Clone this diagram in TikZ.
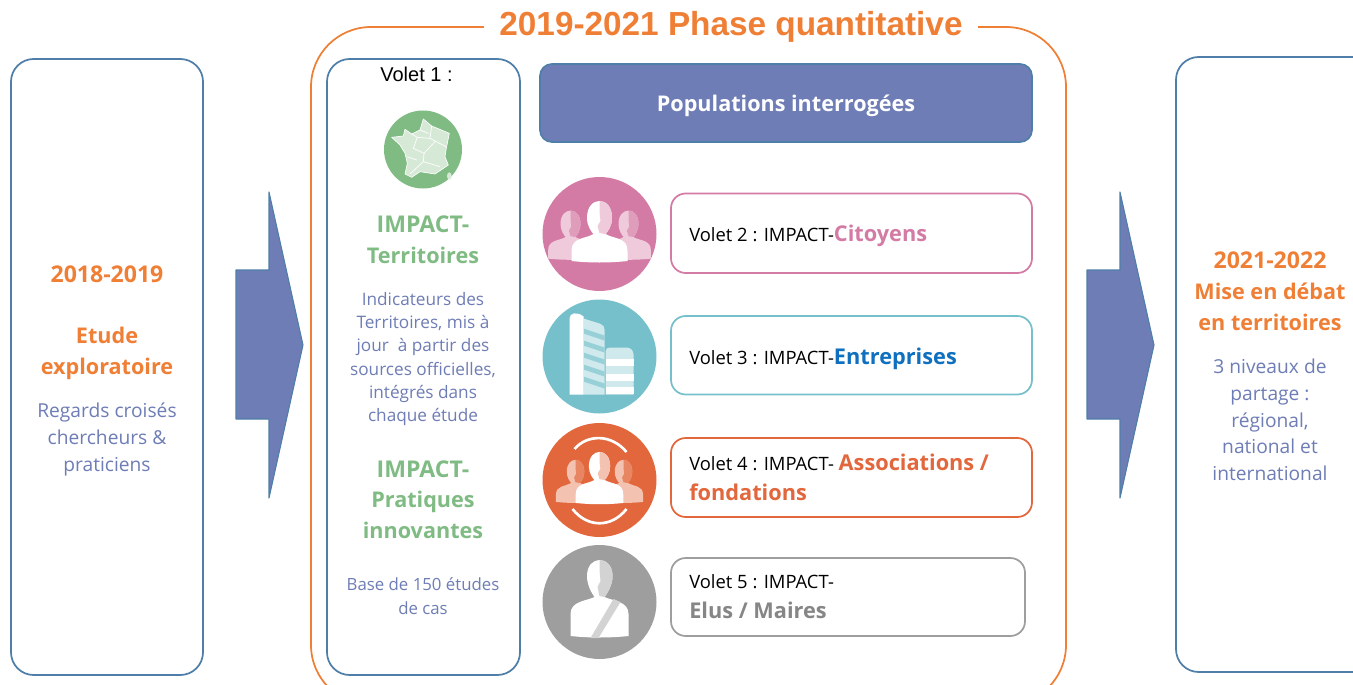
\documentclass[tikz,border=0pt]{standalone}
\usepackage{fontspec}
\setmainfont{Open Sans}
\newfontfamily\arialf{Liberation Sans}
\definecolor{orangeT}{HTML}{F07F36}
\definecolor{blueL}{HTML}{4F7FA8}
\definecolor{slate}{HTML}{6E7DB5}
\definecolor{greenT}{HTML}{7FBB83}
\definecolor{pinkT}{HTML}{D47BA5}
\definecolor{tealT}{HTML}{76C0CB}
\definecolor{redT}{HTML}{E2673C}
\definecolor{grayT}{HTML}{9E9E9E}
\definecolor{blueT}{HTML}{1070C0}
\newcommand{\personshape}[2]{%
  \fill[#1] (-12.5,-16) .. controls (-12.5,-28) and (-6,-33) .. (0,-33) .. controls (6,-33) and (12.5,-28) .. (12.5,-16) .. controls (12.5,-8) and (8,-2) .. (6,0) .. controls (14,5) and (28,3) .. (28,17) -- (28,27) .. controls (10,29) and (-10,29) .. (-28,27) -- (-28,17) .. controls (-28,3) and (-14,5) .. (-6,0) .. controls (-8,-2) and (-12.5,-8) .. (-12.5,-16) -- cycle;
  \fill[#2] (0,-33) .. controls (6,-33) and (12.5,-28) .. (12.5,-16) .. controls (12.5,-8) and (8,-2) .. (6,0) -- (0,-1) -- (-2,-8) -- (1,-13) -- (0,-22) -- cycle;
}
\newcommand{\bigt}[1]{{\bfseries\fontsize{16.3}{20}\selectfont #1}}
\tikzset{
  panel/.style={draw=blueL,line width=1.3pt,rounded corners=17pt,fill=white},
  tagbox/.style={line width=1.3pt,rounded corners=11pt,fill=white},
  bigarrow/.style={fill=slate,draw=blueL,line width=0.8pt,line join=round},
  body/.style={text=slate,align=center},
  ttl/.style={align=center,font=\bfseries\fontsize{16.2}{23.2}\selectfont},
  ttlb/.style={align=center,font=\bfseries\fontsize{17.3}{23.2}\selectfont},
  tag/.style={anchor=west,align=left,inner sep=0pt,font=\fontsize{13.8}{23}\selectfont},
}
\begin{document}
\begin{tikzpicture}[x=0.75pt,y=-0.75pt]
\useasboundingbox (0,0) rectangle (1353,685);
\clip (0,0) rectangle (1353,685);
% frames
\draw[orangeT,line width=1.3pt,rounded corners=45pt] (311,27) rectangle (1066,705);
\node[fill=white,inner sep=0pt,minimum width=371pt,minimum height=34pt,text=orangeT,font=\arialf\bfseries\fontsize{25}{28}\selectfont] (title) at (731,27) {2019-2021 Phase quantitative};
\draw[panel] (11,59) rectangle (203,675);
\draw[panel] (327,59) rectangle (520,675);
\draw[panel] (1176,57) rectangle (1400,672);
% arrows
\draw[bigarrow] (236,270) -- (269,270) -- (269,192) -- (303,345) -- (269,498) -- (269,419) -- (236,419) -- cycle;
\draw[bigarrow] (1087,270) -- (1120,270) -- (1120,192) -- (1154,345) -- (1120,498) -- (1120,419) -- (1087,419) -- cycle;
% left panel
\node[ttlb,text=orangeT] (a1) at (107,274) {2018-2019};
\node[ttl,text=orangeT] (a2) at (107,353) {Etude\\exploratoire};
\node[body,font=\fontsize{14.4}{20}\selectfont] (a3) at (107,439.5) {Regards croisés\\chercheurs \&\\praticiens};
% right panel
\node[ttlb,text=orangeT] (c0) at (1270,260.5) {2021-2022};
\node[ttl,text=orangeT] (c1) at (1270,307) {Mise en débat\\en territoires};
\node[body,font=\fontsize{14.4}{20}\selectfont] (c2) at (1270,420) {3 niveaux de\\partage :\\régional,\\national et\\international};
% volet 1
\node[font=\arialf\fontsize{15}{18}\selectfont] (v1) at (416.5,74) {Volet 1 :};
\fill[greenT] (423,149.5) circle (39);
\begin{scope}[shift={(320,50)},x=0.25pt,y=-0.25pt]
  \draw[fill=white!68!greenT,draw=white,line width=0.5pt,line join=round] (215,262) -- (250,258) -- (255,238) -- (275,252) -- (300,240) -- (310,207) -- (335,228) -- (388,250) -- (378,300) -- (375,320) -- (385,345) -- (345,372) -- (300,365) -- (275,382) -- (255,372) -- (262,340) -- (255,310) -- (240,285) -- cycle;
  \draw[white,line width=0.5pt] (275,252) -- (292,262) -- (330,265) -- (335,228) (330,265) -- (378,290) (292,262) -- (280,295) -- (312,310) -- (345,275) (312,310) -- (310,335) -- (360,350) (310,335) -- (270,372) (262,320) -- (290,330) (300,240) -- (325,250);
  \fill[white!68!greenT] (388,378) ellipse (7 and 11);
\end{scope}
\node[ttlb,text=greenT] (t0) at (423,224) {IMPACT-};
\node[ttl,text=greenT] (t1) at (423,255.5) {Territoires};
\node[body,font=\fontsize{12.9}{17.5}\selectfont] (t2) at (423,359) {Indicateurs des\\Territoires, mis à\\jour~ à partir des\\sources officielles,\\intégrés dans\\chaque étude};
\node[ttlb,text=greenT] (t3a) at (423,469) {IMPACT-};
\node[ttl,text=greenT] (t3) at (423,515) {Pratiques\\innovantes};
\node[body,font=\fontsize{12.6}{18}\selectfont] (t4) at (423,596) {Base de 150 études\\de cas};
% header
\node[draw=blueL,fill=slate,line width=1.3pt,rounded corners=9pt,minimum width=369pt,minimum height=58.5pt,inner sep=0pt] (hdr) at (786,103) {};
\node[text=white,inner sep=0pt,font=\fontsize{16.2}{18}\selectfont\bfseries] (hdrt) at (786,106) {Populations interrogées};
% icon 2
\begin{scope}[shift={(599.5,234)}]
  \fill[pinkT] (0,0) circle (57);
  \begin{scope}[shift={(-29,3)},scale=0.8] \personshape{white!60!pinkT}{white!25!pinkT} \end{scope}
  \begin{scope}[shift={(29,3)},scale=0.8] \personshape{white!60!pinkT}{white!25!pinkT} \end{scope}
  \personshape{white}{white!60!pinkT}
\end{scope}
% icon 3
\begin{scope}[shift={(599.5,356.5)}]
  \fill[tealT] (0,0) circle (57);
  \fill[white!65!tealT] (-16,38) -- (-16,-38) -- (0,-33) .. controls (4,-31) and (5,-30) .. (5,-27) -- (5,38) -- cycle;
  \foreach \yy in {-28,-16,-4,8,20} \fill[white!25!tealT] (-16,\yy) -- (5,\yy+7) -- (5,\yy+12) -- (-16,\yy+5) -- cycle;
  \fill[white] (-30,38) -- (-30,-38) .. controls (-30,-44) and (-22,-45) .. (-16,-40) -- (-16,38) -- cycle;
  \fill[white!65!tealT] (6,38) -- (6,-5) .. controls (6,-8) and (8,-9) .. (11,-9) -- (27,-9) .. controls (31,-9) and (34,-6) .. (34,-2) -- (34,38) -- cycle;
  \foreach \yy in {2,17,30} \fill[white] (6,\yy) rectangle (34,\yy+7);
\end{scope}
% icon 4
\begin{scope}[shift={(599.5,480)}]
  \fill[redT] (0,0) circle (57);
  \begin{scope}[shift={(-24,3)},scale=0.7] \personshape{white!60!redT}{white!20!redT} \end{scope}
  \begin{scope}[shift={(24,3)},scale=0.7] \personshape{white!60!redT}{white!20!redT} \end{scope}
  \begin{scope}[scale=0.85] \personshape{white}{white!60!redT} \end{scope}
  \draw[white,line width=2pt] (-25,-31) .. controls (-12,-46) and (12,-46) .. (27,-28);
  \draw[white,line width=2pt] (-27,29) .. controls (-12,48) and (12,48) .. (27,29);
\end{scope}
% icon 5
\begin{scope}[shift={(599.5,602)}]
  \fill[grayT] (0,0) circle (57);
  \fill[white] (-12.5,-26) .. controls (-12.5,-37) and (-6,-42) .. (0,-42) .. controls (6,-42) and (13,-37) .. (13,-26) .. controls (13,-17) and (8,-9) .. (5,-5) .. controls (13,-1) and (29,-1) .. (29,12) -- (29,34) .. controls (10,36) and (-10,36) .. (-29,34) -- (-29,12) .. controls (-29,-1) and (-13,-1) .. (-5,-5) .. controls (-8,-9) and (-12.5,-17) .. (-12.5,-26) -- cycle;
  \fill[white!55!grayT] (0,-42) .. controls (6,-42) and (13,-37) .. (13,-26) .. controls (13,-17) and (8,-9) .. (5,-5) -- (0,-6) -- (-2,-15) -- (1,-21) -- (0,-32) -- cycle;
  \fill[white!55!grayT] (-9,36) -- (14,-3) -- (21,0) -- (-1,36) -- cycle;
\end{scope}
% tags
\draw[tagbox,draw=pinkT] (671,193.5) rectangle (1032,273);
\node[tag] (v2) at (689,236) {Volet 2 : IMPACT-{\bigt{\color{pinkT}Citoyens}}};
\draw[tagbox,draw=tealT] (671,316) rectangle (1032,394.5);
\node[tag] (v3) at (689,359) {Volet 3 : IMPACT-{\bigt{\color{blueT}Entreprises}}};
\draw[tagbox,draw=redT] (671,438) rectangle (1032,517);
\node[tag] (v4) at (689,477.5) {Volet 4 : IMPACT- {\bigt{\color{redT}Associations /}}\\[0pt]{\bigt{\color{redT}fondations}}};
\draw[tagbox,draw=grayT] (671,558) rectangle (1025,636);
\node[tag] (v5) at (689,596.5) {Volet 5 : IMPACT-\\[0pt]{\bigt{\color{grayT!85!black}Elus / Maires}}};
\end{tikzpicture}
\end{document}
